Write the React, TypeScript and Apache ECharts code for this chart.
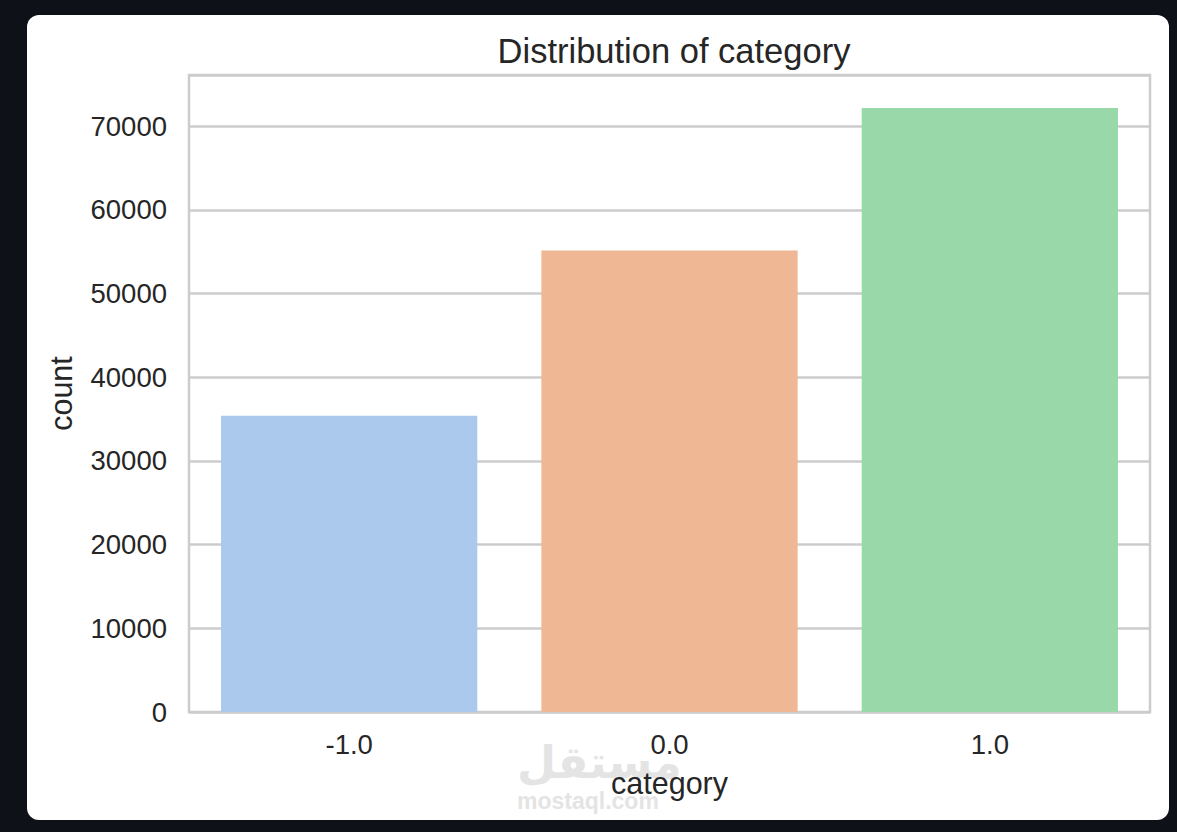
import React, { useEffect, useRef } from "react";
import * as echarts from "echarts";

const categories = ["-1.0", "0.0", "1.0"];
const counts = [35410, 55160, 72200];
const barColors = ["#abc9ec", "#efb793", "#99d9a9"];
const yTicks = [0, 10000, 20000, 30000, 40000, 50000, 60000, 70000];
const yMax = 76130;

export default function App() {
  const ref = useRef<HTMLDivElement>(null);
  useEffect(() => {
    if (!ref.current) return;
    const chart = echarts.init(ref.current, null, { renderer: "svg" });
    const font = "Liberation Sans, Arial, sans-serif";
    chart.setOption({
      animation: false,
      backgroundColor: "transparent",
      title: {
        text: "Distribution of category",
        left: 669,
        top: 28,
        textAlign: "center",
        textStyle: { fontFamily: font, fontSize: 34.5, fontWeight: "normal", color: "#262626" },
      },
      grid: {
        left: 189,
        right: 27,
        top: 75,
        bottom: 120,
        show: true,
        borderColor: "#cccccc",
        borderWidth: 2.5,
        backgroundColor: "#ffffff",
      },
      xAxis: {
        type: "category",
        data: categories,
        name: "category",
        nameLocation: "middle",
        nameGap: 55,
        nameTextStyle: { fontFamily: font, fontSize: 30.5, color: "#262626" },
        axisLine: { show: false },
        axisTick: { show: false },
        axisLabel: { fontFamily: font, fontSize: 27.5, color: "#262626", margin: 18 },
        splitLine: { show: false },
      },
      yAxis: {
        type: "value",
        min: 0,
        max: yMax,
        interval: 10000,
        name: "count",
        nameLocation: "middle",
        nameGap: 113,
        nameRotate: 90,
        nameTextStyle: { fontFamily: font, fontSize: 30.5, color: "#262626" },
        axisLine: { show: false },
        axisTick: { show: false },
        axisLabel: {
          fontFamily: font,
          fontSize: 27.5,
          color: "#262626",
          margin: 22,
          showMaxLabel: false,
          formatter: (v: number) => (yTicks.includes(v) ? String(v) : ""),
        },
        splitLine: { show: true, lineStyle: { color: "#cccccc", width: 2.5 } },
      },
      series: [
        {
          type: "bar",
          barCategoryGap: "20%",
          data: counts.map((v, i) => ({ value: v, itemStyle: { color: barColors[i] } })),
        },
      ],
      graphic: [
        {
          type: "text",
          z: -1,
          left: 517,
          top: 740,
          style: {
            text: "مستقل",
            font: "bold 45px 'DejaVu Sans', sans-serif",
            fill: "#e4e4e4",
          },
        },
        {
          type: "text",
          z: -1,
          left: 517,
          top: 789,
          style: {
            text: "mostaql.com",
            font: "bold 23px 'Liberation Sans', Arial, sans-serif",
            fill: "#e4e4e4",
          },
        },
      ],
    });
    return () => chart.dispose();
  }, []);
  return (
    <div style={{ position: "fixed", left: 0, top: 0, width: 1177, height: 832, background: "#0e1117" }}>
      <div
        style={{
          position: "absolute",
          left: 27,
          top: 15,
          width: 1142,
          height: 805,
          background: "#ffffff",
          borderRadius: 12,
        }}
      />
      <div ref={ref} style={{ position: "absolute", left: 0, top: 0, width: 1177, height: 832 }} />
    </div>
  );
}
